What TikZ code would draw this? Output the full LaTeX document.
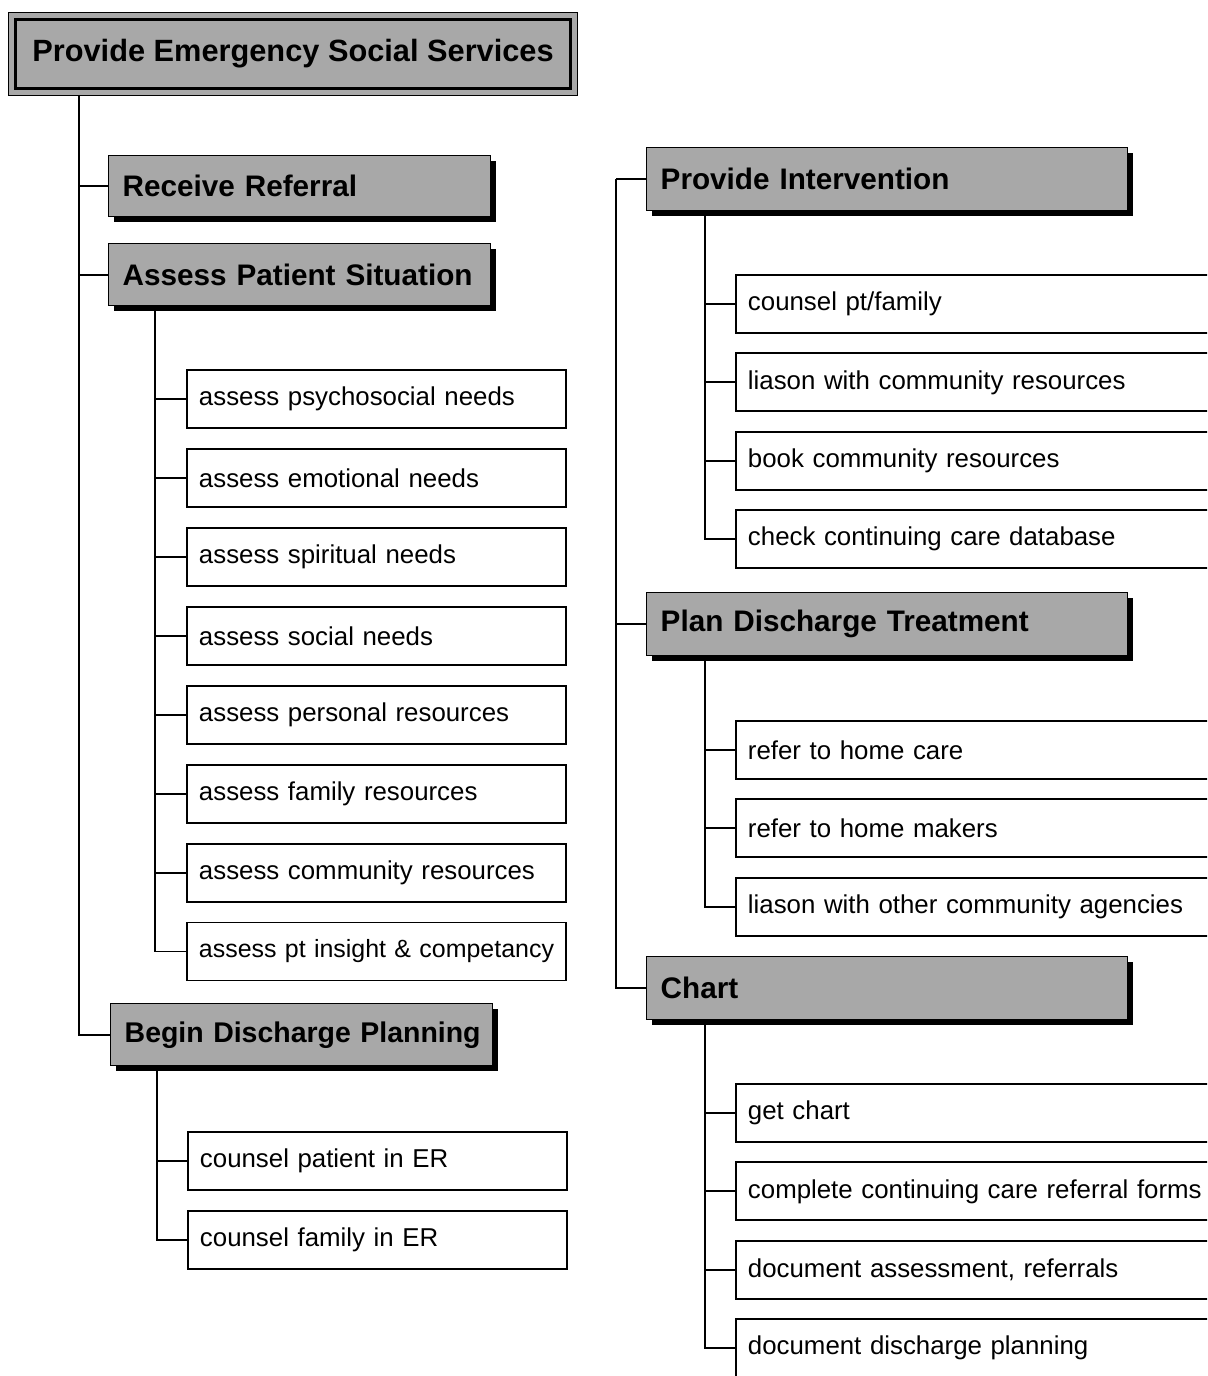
\documentclass[tikz,border=0pt]{standalone}
\usepackage{fontspec}
\setmainfont{Liberation Sans}
\usetikzlibrary{positioning, shadows}
\definecolor{hdgray}{RGB}{168,168,168}

\begin{document}
\begin{tikzpicture}[
        node distance=0.38cm,
        oneline/.style={
            execute at begin node={\hbox to\hsize\bgroup},
            execute at end node={\hfil\egroup}
        },
        titleframe/.style={
            draw,
            line width=0.6pt,
            fill=hdgray,
            minimum width=11.38cm,
            minimum height=1.66cm,
            inner sep=0pt
        },
        titlebox/.style={
            draw,
            line width=2.2pt,
            fill=hdgray,
            minimum width=11.10cm,
            minimum height=1.38cm,
            font=\fontsize{17.5}{20}\selectfont\bfseries
        },
        hdbox/.style={
            draw,
            line width=0.8pt,
            fill=hdgray,
            anchor=north west,
            text width=7.08cm,
            inner xsep=0.28cm,
            minimum height=1.22cm,
            oneline,
            font=\fontsize{16.9}{20}\selectfont\bfseries,
            drop shadow={shadow xshift=0.11cm, shadow yshift=-0.11cm, fill=black, opacity=1}
        },
        rwide/.style={text width=9.06cm, minimum height=1.26cm},
        task/.style={
            draw,
            line width=1.1pt,
            fill=white,
            text width=7.10cm,
            inner xsep=0.24cm,
            minimum height=1.16cm,
            oneline,
            font=\fontsize{14.7}{17}\selectfont
        },
        rtask/.style={task, text width=9.8cm},
        link/.style={line width=1.1pt}
    ]

    \useasboundingbox (0,0) rectangle (24.14,-27.52);
    \clip (0,0) rectangle (24.14,-27.52);

    % Top node
    \node[titleframe, anchor=north west] (frame) at (0.16,-0.24) {};
    \node[titlebox] (title) at (frame.center) {Provide Emergency Social Services};

    % Left headings
    \node[hdbox] (receive) at (2.16,-3.10) {Receive Referral};
    \node[hdbox, minimum height=1.24cm] (assess) at (2.16,-4.86) {Assess Patient Situation};
    \node[hdbox, minimum height=1.24cm, font=\fontsize{16.2}{20}\selectfont\bfseries] (beginplan) at (2.20,-20.06) {Begin Discharge Planning};

    % Assessment tasks
    \node[task, anchor=north west] (a1) at (3.72,-7.38) {assess psychosocial needs};
    \node[task, below=of a1] (a2) {assess emotional needs};
    \node[task, below=of a2] (a3) {assess spiritual needs};
    \node[task, below=of a3] (a4) {assess social needs};
    \node[task, below=of a4] (a5) {assess personal resources};
    \node[task, below=of a5] (a6) {assess family resources};
    \node[task, below=of a6] (a7) {assess community resources};
    \node[task, below=of a7, font=\fontsize{14.2}{17}\selectfont] (a8) {assess pt insight \& competancy};

    % Discharge planning tasks
    \node[task, anchor=north west] (b1) at (3.74,-22.62) {counsel patient in ER};
    \node[task, below=of b1] (b2) {counsel family in ER};

    % Right headings
    \node[hdbox, rwide] (intervene) at (12.92,-2.94) {Provide Intervention};
    \node[hdbox, rwide] (plan) at (12.92,-11.84) {Plan Discharge Treatment};
    \node[hdbox, rwide] (chart) at (12.92,-19.12) {Chart};

    % Intervention tasks
    \node[rtask, anchor=north west] (i1) at (14.70,-5.48) {counsel pt/family};
    \node[rtask, below=0.37cm of i1] (i2) {liason with community resources};
    \node[rtask, below=0.37cm of i2] (i3) {book community resources};
    \node[rtask, below=0.37cm of i3] (i4) {check continuing care database};

    % Discharge treatment tasks
    \node[rtask, anchor=north west] (p1) at (14.70,-14.40) {refer to home care};
    \node[rtask, below=0.37cm of p1] (p2) {refer to home makers};
    \node[rtask, below=0.37cm of p2] (p3) {liason with other community agencies};

    % Chart tasks
    \node[rtask, anchor=north west] (c1) at (14.70,-21.66) {get chart};
    \node[rtask, below=0.37cm of c1] (c2) {complete continuing care referral forms};
    \node[rtask, below=0.37cm of c2] (c3) {document assessment, referrals};
    \node[rtask, below=0.37cm of c3] (c4) {document discharge planning};

    % Trunk lines
    \coordinate (ltrunk) at ([xshift=1.42cm]frame.south west);
    \coordinate (atrunk) at ([xshift=0.94cm]assess.south west);
    \coordinate (btrunk) at ([xshift=0.94cm]beginplan.south west);
    \coordinate (rtrunk) at ([xshift=-0.6cm]intervene.west);
    \coordinate (itrunk) at ([xshift=1.18cm]intervene.south west);
    \coordinate (ptrunk) at ([xshift=1.18cm]plan.south west);
    \coordinate (ctrunk) at ([xshift=1.18cm]chart.south west);

    \foreach \n in {receive, assess, beginplan}
        \draw[link] (ltrunk) |- (\n.west);
    \foreach \n in {intervene, plan, chart}
        \draw[link] (rtrunk) |- (\n.west);

    \foreach \i in {1,...,8}
        \draw[link] (atrunk) |- (a\i.west);
    \foreach \i in {1,2}
        \draw[link] (btrunk) |- (b\i.west);
    \foreach \i in {1,...,4}
        \draw[link] (itrunk) |- (i\i.west);
    \foreach \i in {1,...,3}
        \draw[link] (ptrunk) |- (p\i.west);
    \foreach \i in {1,...,4}
        \draw[link] (ctrunk) |- (c\i.west);

\end{tikzpicture}
\end{document}
